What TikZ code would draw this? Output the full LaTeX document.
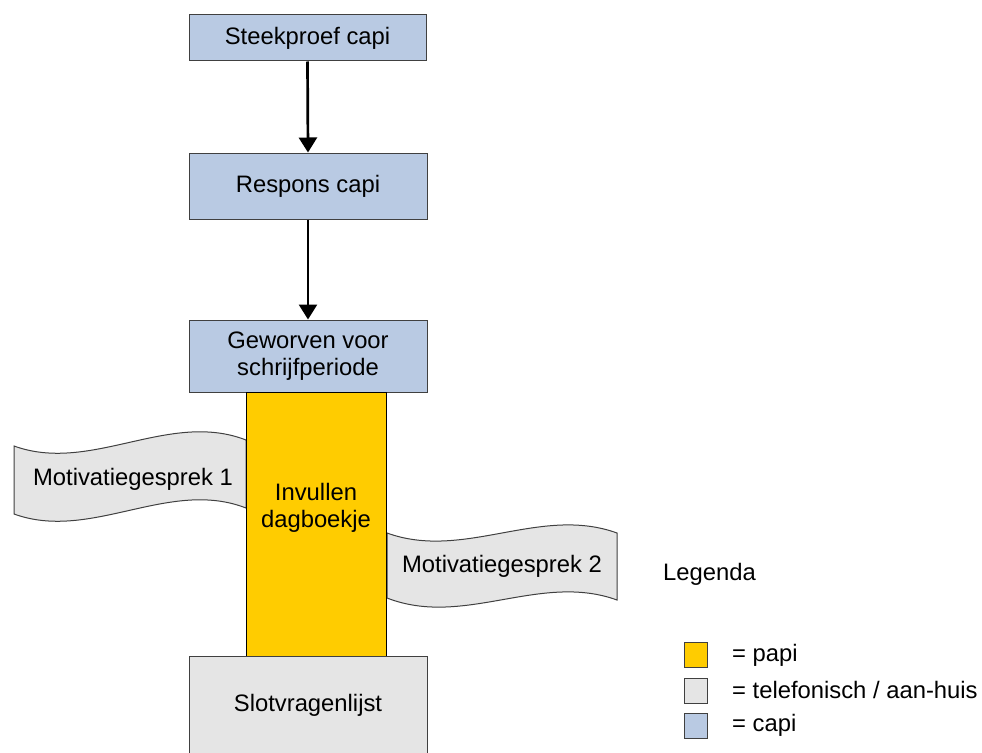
\documentclass[tikz,border=0pt]{standalone}
\usepackage{fontspec}
\setmainfont{Liberation Sans}
\usetikzlibrary{arrows.meta}
\definecolor{capiblue}{HTML}{B9CAE3}
\definecolor{papiyellow}{HTML}{FFCC00}
\definecolor{telgrey}{HTML}{E5E5E5}
\definecolor{edgegrey}{HTML}{404040}
\tikzset{
  lbl/.style={font=\fontsize{23.8}{27.5}\selectfont, text=black, align=center, inner sep=0pt},
  boxcapi/.style={lbl, draw=edgegrey, line width=1pt, fill=capiblue},
  boxpapi/.style={lbl, draw=black, line width=1pt, fill=papiyellow},
  boxtel/.style={lbl, draw=edgegrey, line width=1pt, fill=telgrey},
  wave/.style={draw=edgegrey, line width=1pt, fill=telgrey},
  flow/.style={line width=2.7pt, -{Triangle[width=18pt,length=15pt]}},
  legsq/.style={draw=edgegrey, line width=1pt, minimum width=23pt, minimum height=25pt, inner sep=0pt}
}
\begin{document}
\begin{tikzpicture}[x=1pt,y=-1pt]
\path[use as bounding box, clip] (0,0) rectangle (982,752);
\fill[white] (0,0) rectangle (982,752);

% waves (drawn first, behind the yellow bar)
\draw[wave] (14,446) .. controls (91,474) and (169,410) .. (246,440)
  -- (246,508) .. controls (169,478) and (91,542) .. (14,514) -- cycle;
\node[lbl] (m1) at (133,479) {Motivatiegesprek 1};

\draw[wave] (387,533) .. controls (464,561) and (540,505) .. (617,533)
  -- (617,600) .. controls (540,572) and (464,628) .. (387,598) -- cycle;
\node[lbl] (m2) at (502,566) {Motivatiegesprek 2};

% main column
\node[boxcapi, minimum width=237pt, minimum height=46pt] (s1) at (307.5,38) {Steekproef capi};
\node[boxcapi, minimum width=238pt, minimum height=66pt] (s2) at (308,186) {Respons capi};
\node[boxcapi, minimum width=238pt, minimum height=72pt] (s3) at (308,356) {Geworven voor\\schrijfperiode};
\node[boxpapi, minimum width=140pt, minimum height=264pt] (dag) at (316,524) {};
\node[lbl] (dagt) at (316,508) {Invullen\\dagboekje};
\node[boxtel, minimum width=238pt, minimum height=120pt] (slot) at (308,716) {};
\node[lbl] (slott) at (308,705) {Slotvragenlijst};

\draw[flow] (s1.south) -- (s2.north);
\draw[flow] (s2.south) -- (s3.north);

% legend
\node[lbl, anchor=west] (leg) at (663,574) {Legenda};
\node[legsq, fill=papiyellow] (q1) at (695.5,655) {};
\node[legsq, fill=telgrey] (q2) at (695.5,690.5) {};
\node[legsq, fill=capiblue] (q3) at (695.5,725.5) {};
\node[lbl, anchor=west] (t1) at (732,655) {= papi};
\node[lbl, anchor=west] (t2) at (732,690) {= telefonisch / aan-huis};
\node[lbl, anchor=west] (t3) at (732,725) {= capi};
\end{tikzpicture}
\end{document}
